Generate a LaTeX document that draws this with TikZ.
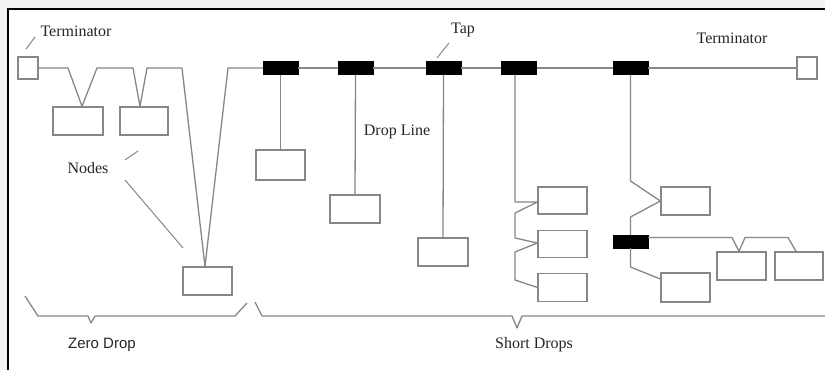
\documentclass[tikz,border=0pt]{standalone}
\usepackage{fontspec}
\setmainfont{Liberation Serif}
\newfontfamily\sansf{Liberation Sans}
\definecolor{lg}{RGB}{135,135,135}
\definecolor{bgg}{RGB}{243,243,243}
\begin{document}
\begin{tikzpicture}[x=1pt,y=-1pt,
  wire/.style={draw=lg,line width=1.3pt,line join=round},
  box/.style={draw=lg,line width=1.3pt,rectangle,inner sep=0pt,minimum width=49pt,minimum height=28pt},
  termbox/.style={draw=lg,line width=1.3pt,rectangle,inner sep=0pt,minimum width=20pt,minimum height=22pt},
  tapbox/.style={fill=black,draw=black,rectangle,inner sep=0pt,minimum width=35pt,minimum height=13pt},
  lbl/.style={font=\fontsize{16}{18}\selectfont,text=black!85,inner sep=0pt}]
\useasboundingbox (0,0) rectangle (825,370);
\fill[bgg] (0,0) rectangle (825,370);
\fill[white] (8,9) rectangle (825,370);
\draw[black,line width=1.2pt] (8,370) -- (8,9) -- (825,9);

% terminators
\node[termbox] (tl) at (28,68) {};
\node[termbox] (tr) at (807,68) {};

% zero-drop nodes
\node[box,minimum width=50pt] (n1) at (78,121) {};
\node[box,minimum width=48pt] (n2) at (144,121) {};
\node[box] (n3) at (207.5,281) {};

% taps
\node[tapbox] (tap1) at (280.5,68) {};
\node[tapbox] (tap2) at (355.5,68) {};
\node[tapbox] (tap3) at (443.5,68) {};
\node[tapbox] (tap4) at (519,68) {};
\node[tapbox] (tap5) at (630.5,68) {};
\node[tapbox] (tap6) at (630.5,241.5) {};

% short-drop nodes
\node[box,minimum height=30pt] (A) at (280.5,165) {};
\node[box,minimum width=50pt] (B) at (355,209) {};
\node[box,minimum width=50pt] (C) at (443,252) {};
\node[box,minimum height=27pt] (D1) at (562.5,200.5) {};
\node[box,minimum height=27pt] (D2) at (562.5,244) {};
\node[box] (D3) at (562.5,287.5) {};
\node[box] (E1) at (685.5,201) {};
\node[box,minimum height=29pt] (E2) at (685.5,287.5) {};
\node[box] (F1) at (741.5,266) {};
\node[box,minimum width=48pt] (F2) at (799,266) {};

% zero drop wiring
\draw[wire] (tl.east) -- (68,68) -- ([xshift=4pt]n1.north) -- (97,68) -- (133,68)
  -- ([xshift=-4pt]n2.north) -- (147,68) -- (182,68) -- ([xshift=-2.5pt]n3.north)
  -- (228,68) -- (tap1.west);

% bus
\draw[wire] (tap1.east) -- (tap2.west);
\draw[wire] (tap2.east) -- (tap3.west);
\draw[wire] (tap3.east) -- (tap4.west);
\draw[wire] (tap4.east) -- (tap5.west);
\draw[wire] (tap5.east) -- (tr.west);

% drop lines
\draw[wire] (tap1.south) -- (A.north);
\draw[wire] (tap2.south) -- (B.north);
\draw[wire] (tap3.south) -- (C.north);
\draw[wire] ([xshift=-4pt]tap4.south) |- ([yshift=-1.5pt]D1.west) -- (515,213) -- (515,238)
  -- ([yshift=1pt]D2.west) -- (515,252) -- (515,280) -- (D3.west);
\draw[wire] (tap5.south) -- (630.5,181) -- (E1.west) -- (630.5,217) -- (tap6.north);
\draw[wire] (tap6.south) -- (630.5,267) -- ([yshift=8.5pt]E2.west);
\draw[wire] ([yshift=4pt]tap6.east) -- (732,237.5) -- ([xshift=-2.5pt]F1.north)
  -- (745,237.5) -- (788,237.5) -- ([xshift=-3pt]F2.north);

% labels
\node[lbl] (lterm) at (76,31) {Terminator};
\node[lbl] (ltap) at (463,30) {Tap};
\node[lbl] (rterm) at (732,38) {Terminator};
\node[lbl] (ldrop) at (397,132) {Drop Line};
\node[lbl] (lnodes) at (88,168) {Nodes};
\node[lbl,font=\sansf\fontsize{15}{17}\selectfont] (lzero) at (102,345) {Zero Drop};
\node[lbl] (lshort) at (534,345) {Short Drops};

% leaders
\draw[wire,line width=1pt] (26,49) -- (35,37);
\draw[wire,line width=1pt] (437,58) -- (449,43);
\draw[wire,line width=1pt] (125,160) -- (138,151);
\draw[wire,line width=1pt] (125,180) -- (183,248);

% braces
\draw[wire] (25,296) -- (38,316) -- (88,316) -- (91,323) -- (95,316) -- (235,316) -- (247,303);
\draw[wire] (255,302) -- (262,316) -- (512,316) -- (517,328) -- (522,316) -- (825,316);
\end{tikzpicture}
\end{document}
